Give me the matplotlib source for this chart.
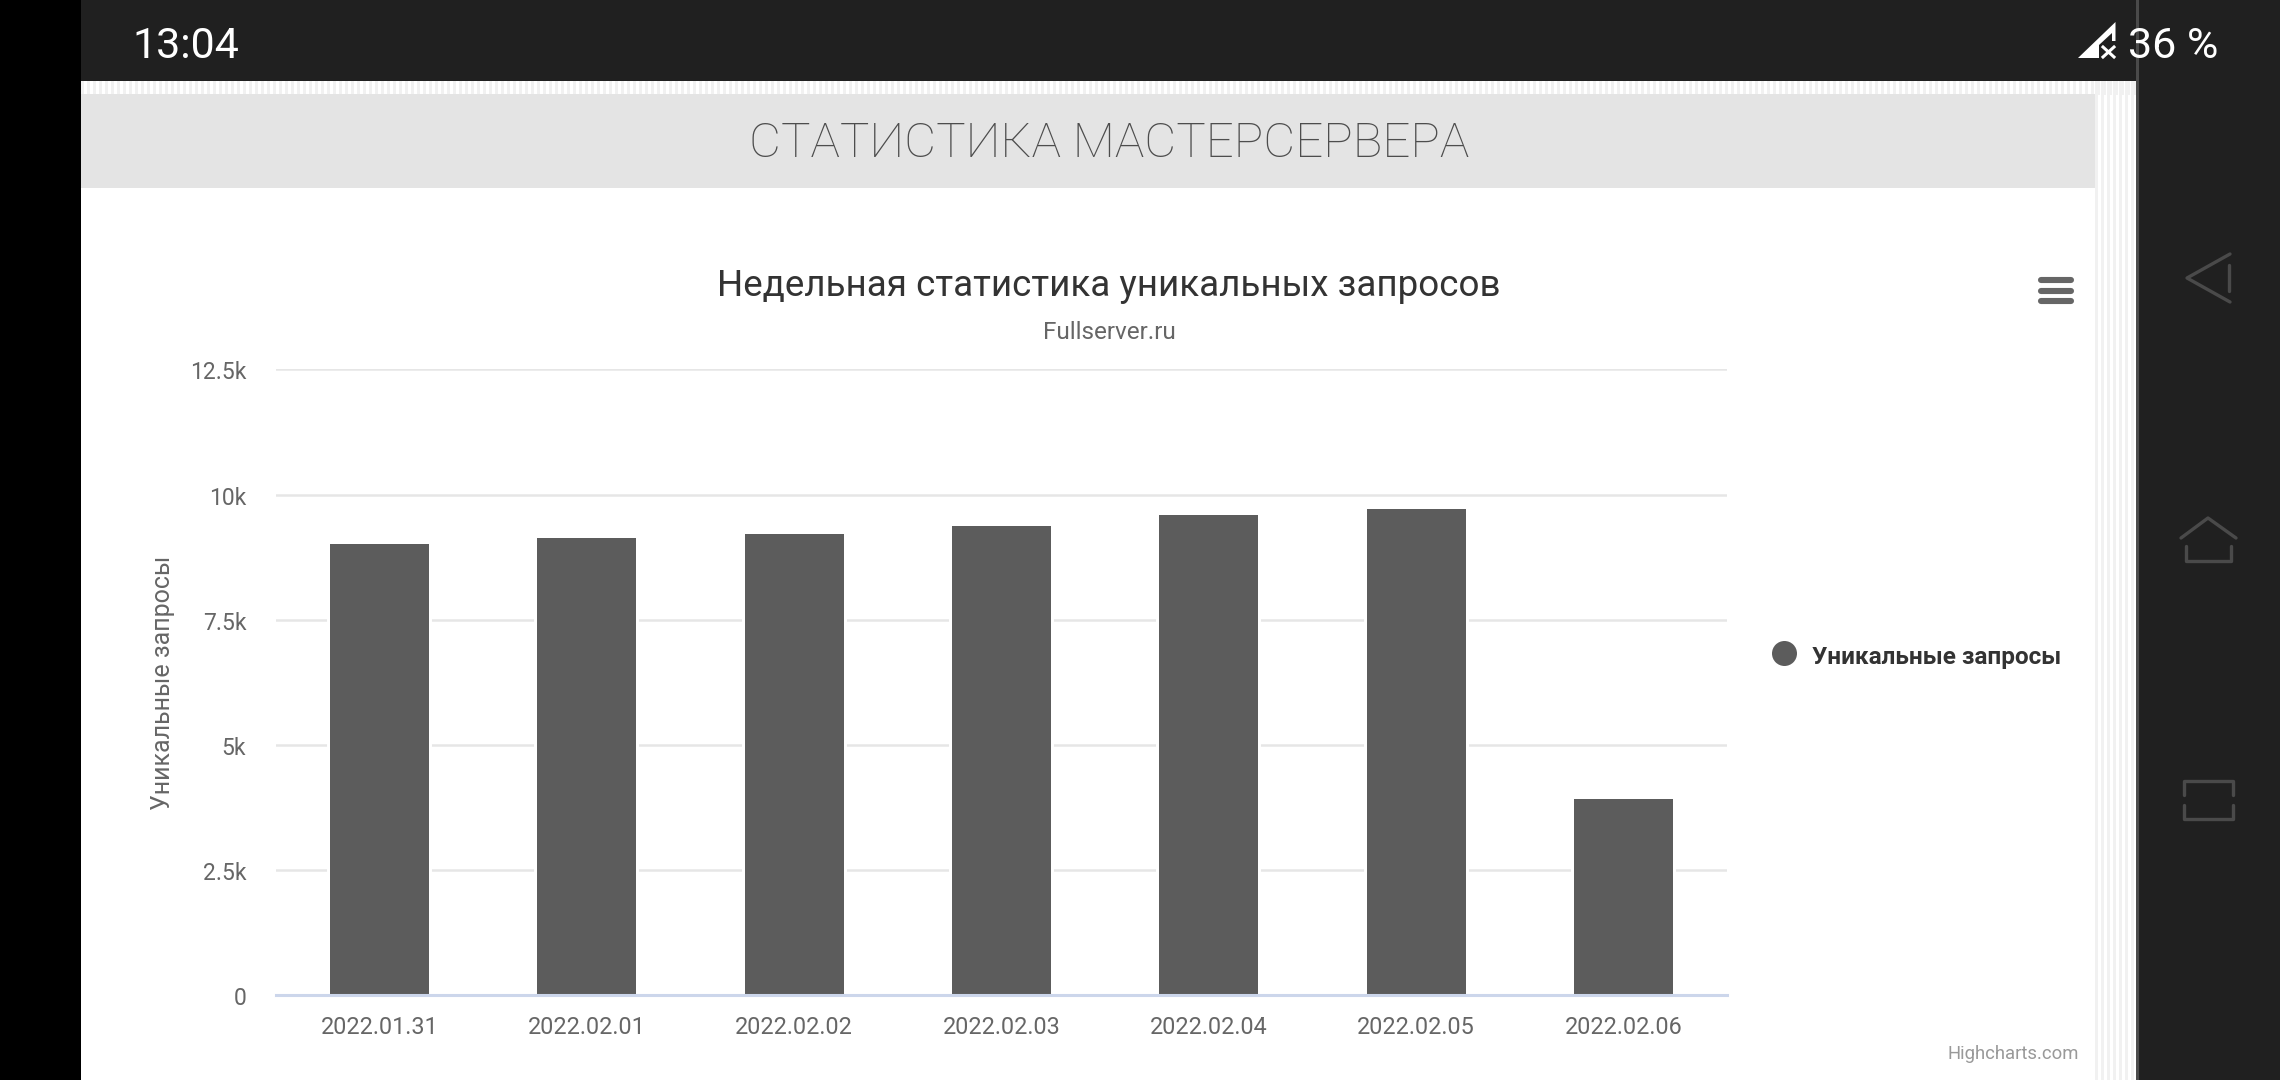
import matplotlib
matplotlib.use('Agg')
import matplotlib.pyplot as plt
from matplotlib.patches import Rectangle, Circle, Polygon
from matplotlib.transforms import ScaledTranslation

plt.rcParams['font.family'] = ['Roboto', 'DejaVu Sans']

dates = ['2022.01.31', '2022.02.01', '2022.02.02', '2022.02.03', '2022.02.04', '2022.02.05', '2022.02.06']
requests = [9008, 9128, 9214, 9374, 9588, 9708, 3915]
y_ticks = [0, 2500, 5000, 7500, 10000, 12500]
y_labels = ['0', '2.5k', '5k', '7.5k', '10k', '12.5k']

W, H = 2280, 1080
DARK = '#202020'
ICON = '#4a4a4a'
BAR = '#5c5c5c'

fig = plt.figure(figsize=(W / 100, H / 100), dpi=100, facecolor='white')

# page around the chart, drawn in screen pixels
bg = fig.add_axes([0, 0, 1, 1], zorder=0)
bg.set_xlim(0, W)
bg.set_ylim(H, 0)
bg.axis('off')

# striped page background
for x in range(81, 2136, 6):
    bg.add_patch(Rectangle((x, 81), 3, 14, fc='#f1f1f1', ec='none'))
for x in range(2095, 2136, 6):
    bg.add_patch(Rectangle((x, 81), 3, H - 81, fc='#f1f1f1', ec='none'))

bg.add_patch(Rectangle((0, 0), 81, H, fc='black', ec='none'))
bg.add_patch(Rectangle((81, 0), W - 81, 81, fc=DARK, ec='none'))
bg.add_patch(Rectangle((2136, 0), W - 2136, H, fc=DARK, ec='none'))
bg.add_patch(Rectangle((2136, 0), 3, H, fc=ICON, ec='none'))
bg.add_patch(Rectangle((81, 94), 2014, 94, fc='#e4e4e4', ec='none'))

# status bar
bg.text(132, 42, '13:04', color='white', fontsize=31, ha='left', va='center_baseline')
bg.text(2128, 42, '36 %', color='white', fontsize=31, ha='left', va='center_baseline')
bg.add_patch(Polygon([(2078, 58), (2115.5, 22), (2115.5, 41), (2112, 41), (2112, 33), (2099, 45), (2099, 58)],
                     fc='white', ec='none'))
bg.plot([2103, 2114], [47, 57], color='white', lw=2.2)
bg.plot([2103, 2114], [57, 47], color='white', lw=2.2)

# navigation buttons
icon_style = dict(color=ICON, lw=2.4, solid_capstyle='round', solid_joinstyle='round')
bg.plot([2230, 2187, 2230], [254, 278, 302], **icon_style)
bg.plot([2229, 2229], [265, 291], **icon_style)
bg.plot([2181, 2208, 2236], [538, 518, 538], **icon_style)
bg.plot([2186, 2186, 2231, 2231], [546, 561, 561, 546], **icon_style)
bg.plot([2184, 2184, 2233, 2233], [795, 781, 781, 795], **icon_style)
bg.plot([2184, 2184, 2233, 2233], [805, 819, 819, 805], **icon_style)

# page and chart headings
bg.text(1109, 139, 'СТАТИСТИКА МАСТЕРСЕРВЕРА', color='#4d4d4d', fontsize=35.5, fontweight='light',
        ha='center', va='center_baseline')
bg.text(1109, 282, 'Недельная статистика уникальных запросов', color='#333333', fontsize=26.5,
        ha='center', va='center_baseline')
bg.text(1109, 330, 'Fullserver.ru', color='#666666', fontsize=17.5, ha='center', va='center_baseline')

# hamburger menu
for y in [280, 291, 301]:
    bg.plot([2041, 2071], [y, y], color='#666666', lw=4.4, solid_capstyle='round')

# legend and credit
bg.add_patch(Circle((1784.5, 653.5), 12.5, fc=BAR, ec='none'))
bg.text(1812, 655, 'Уникальные запросы', color='#333333', fontsize=17.5, fontweight='bold',
        ha='left', va='center_baseline')
bg.text(2079, 1052, 'Highcharts.com', color='#999999', fontsize=13.3, ha='right', va='center_baseline')

# chart
left, right, top, bottom = 276, 1727, 369.5, 995.3
ax = fig.add_axes([left / W, 1 - bottom / H, (right - left) / W, (bottom - top) / H], zorder=1)
ax.patch.set_alpha(0)
# white halo behind the bars cuts the grid lines, like the highcharts border
ax.bar(range(len(dates)), requests, width=0.477, color='white', edgecolor='white', linewidth=4.3, zorder=2)
ax.bar(range(len(dates)), requests, width=0.477, color=BAR, zorder=3)
ax.set_xlim(-0.5, len(dates) - 0.5)
ax.set_ylim(0, 12500)
ax.set_xticks(range(len(dates)))
ax.set_xticklabels(dates)
ax.set_yticks(y_ticks)
ax.set_yticklabels(y_labels)
ax.tick_params(axis='both', length=0, labelsize=16.8, labelcolor='#666666')
ax.tick_params(axis='x', pad=15)
ax.tick_params(axis='y', labelsize=16.5, pad=21.5)
down = ScaledTranslation(0, -1 / 100, fig.dpi_scale_trans)
for label in ax.get_yticklabels():
    label.set_transform(label.get_transform() + down)
ax.grid(axis='y', color='#e6e6e6', lw=1.8, zorder=1)
ax.set_axisbelow(True)
for name in ['top', 'right', 'left']:
    ax.spines[name].set_visible(False)
ax.spines['bottom'].set_color('#ccd6eb')
ax.spines['bottom'].set_linewidth(2.2)
ax.spines['bottom'].set_zorder(4)
ax.set_ylabel('Уникальные запросы', color='#666666', fontsize=18)
ax.yaxis.set_label_coords((175 - left) / (right - left), (bottom - 683) / (bottom - top))

fig.savefig('out.png', dpi=100)
